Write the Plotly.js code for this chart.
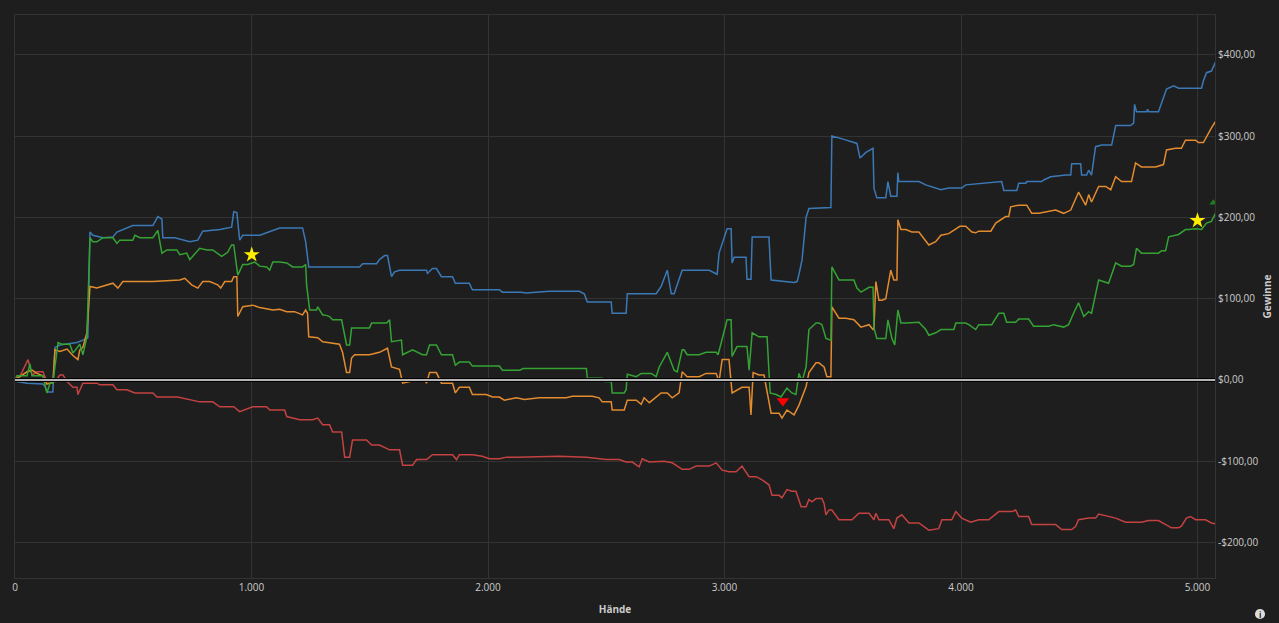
<!DOCTYPE html>
<html>
<head>
<meta charset="utf-8">
<script src="https://cdn.plot.ly/plotly-3.0.1.min.js"></script>
<style>
html,body{margin:0;padding:0;background:#1e1e1e;}
#chart{width:1279px;height:623px;}
</style>
</head>
<body>
<div id="chart"></div>
<script>
// [hands, winnings $]
const blueSeries = [[0,0],[8,-2],[51,-4],[118,-5],[127,-8],[135,-15],[160,-15],[169,40],[190,43],[232,45],[262,46],[287,49],[308,52],[317,182],[329,178],[372,175],[414,176],[431,182],[473,187],[498,190],[583,190],[604,201],[621,198],[625,175],[676,175],[718,172],[739,170],[773,172],[794,183],[866,185],[916,188],[925,207],[938,206],[950,172],[963,178],[1035,178],[1064,181],[1119,187],[1216,187],[1229,170],[1242,139],[1457,139],[1470,143],[1529,143],[1541,148],[1563,153],[1575,153],[1592,127],[1605,133],[1626,135],[1740,135],[1744,131],[1765,137],[1782,137],[1803,127],[1850,127],[1862,119],[1921,119],[1934,111],[2048,111],[2061,108],[2141,108],[2162,107],[2260,109],[2386,109],[2407,106],[2420,96],[2521,96],[2525,82],[2584,82],[2589,106],[2711,106],[2732,115],[2758,135],[2775,106],[2787,106],[2821,135],[2935,135],[2969,130],[2977,156],[3011,186],[3028,186],[3032,144],[3041,151],[3091,151],[3095,124],[3112,124],[3117,176],[3188,176],[3197,123],[3294,120],[3307,121],[3315,130],[3328,148],[3345,200],[3357,211],[3450,212],[3454,300],[3505,296],[3539,293],[3560,291],[3573,273],[3598,280],[3628,285],[3632,236],[3644,224],[3682,224],[3691,244],[3703,226],[3729,226],[3733,255],[3737,244],[3822,244],[3851,240],[3915,234],[3948,236],[4003,236],[4020,240],[4084,242],[4172,244],[4181,233],[4236,233],[4244,242],[4274,242],[4278,244],[4341,244],[4350,246],[4379,250],[4443,252],[4464,252],[4468,266],[4506,266],[4510,252],[4531,252],[4540,258],[4552,252],[4569,287],[4595,289],[4637,289],[4654,313],[4717,313],[4730,316],[4734,339],[4742,330],[4785,330],[4789,333],[4793,330],[4835,330],[4869,358],[4899,362],[4920,359],[5017,359],[5025,368],[5038,378],[5059,380],[5076,391]];

const orangeSeries = [[0,0],[21,4],[51,10],[72,12],[93,8],[118,5],[135,-5],[160,-3],[169,37],[190,35],[220,38],[245,30],[266,25],[274,37],[287,40],[304,58],[317,115],[346,113],[372,115],[414,119],[435,113],[456,121],[507,121],[583,121],[697,123],[718,125],[747,117],[773,113],[794,121],[823,121],[857,117],[870,113],[887,121],[916,121],[925,127],[938,127],[942,78],[963,90],[1005,92],[1035,89],[1090,86],[1119,87],[1149,84],[1182,84],[1216,80],[1229,86],[1237,82],[1242,53],[1280,52],[1301,47],[1372,44],[1385,34],[1402,9],[1415,9],[1423,27],[1436,31],[1499,31],[1541,34],[1575,39],[1592,16],[1626,13],[1639,-4],[1698,0],[1731,0],[1740,-4],[1753,9],[1782,9],[1803,-4],[1850,-4],[1862,-16],[1879,-9],[1921,-9],[1934,-18],[1993,-18],[2019,-21],[2048,-21],[2069,-25],[2120,-22],[2154,-24],[2217,-22],[2331,-22],[2356,-20],[2441,-20],[2470,-22],[2483,-27],[2521,-27],[2525,-37],[2576,-37],[2589,-25],[2627,-25],[2648,-30],[2660,-22],[2682,-28],[2732,-16],[2758,-16],[2779,-22],[2808,-16],[2821,10],[2842,4],[2893,4],[2922,8],[2965,8],[2977,-2],[2990,25],[3019,25],[3032,-16],[3074,-9],[3104,-9],[3112,-43],[3121,9],[3146,6],[3167,6],[3197,-41],[3231,-41],[3243,-47],[3264,-37],[3294,-43],[3315,-31],[3345,-8],[3357,9],[3387,21],[3399,21],[3421,16],[3433,4],[3450,4],[3454,90],[3484,76],[3513,76],[3547,74],[3577,65],[3611,68],[3628,62],[3632,64],[3640,121],[3653,98],[3666,98],[3682,100],[3703,135],[3716,123],[3729,123],[3733,197],[3746,185],[3767,185],[3792,182],[3822,182],[3851,170],[3864,166],[3893,170],[3915,178],[3948,180],[3978,186],[3995,189],[4020,189],[4046,182],[4062,181],[4075,183],[4126,183],[4147,193],[4189,201],[4202,201],[4210,213],[4244,215],[4278,215],[4299,205],[4329,205],[4371,207],[4400,209],[4434,205],[4464,209],[4497,231],[4527,215],[4540,228],[4552,219],[4582,238],[4612,238],[4633,234],[4654,250],[4679,244],[4721,244],[4738,267],[4763,262],[4823,262],[4856,265],[4869,283],[4907,285],[4932,285],[4949,295],[4992,295],[5004,292],[5025,292],[5034,297],[5059,310],[5076,318]];

const greenSeries = [[0,0],[8,5],[51,5],[63,20],[72,5],[118,5],[135,-16],[148,-4],[160,-4],[182,46],[198,44],[232,44],[245,33],[274,44],[287,31],[304,53],[317,175],[329,170],[346,170],[372,175],[414,175],[431,168],[443,172],[498,172],[507,178],[528,175],[583,175],[604,184],[621,156],[642,160],[684,160],[697,154],[726,156],[739,148],[781,162],[811,160],[836,160],[874,152],[899,157],[916,166],[925,166],[942,129],[963,142],[984,142],[1014,145],[1035,140],[1064,139],[1077,135],[1090,145],[1119,145],[1149,144],[1174,139],[1216,139],[1229,142],[1233,117],[1246,86],[1275,86],[1280,90],[1301,80],[1309,80],[1330,78],[1343,74],[1381,74],[1385,68],[1402,43],[1415,43],[1423,64],[1436,64],[1499,64],[1508,70],[1571,70],[1584,74],[1592,47],[1634,49],[1639,31],[1681,37],[1723,31],[1740,31],[1753,43],[1782,43],[1803,31],[1850,31],[1862,18],[1879,22],[1921,22],[1934,17],[2048,17],[2061,12],[2133,12],[2150,14],[2416,14],[2420,2],[2483,2],[2492,-2],[2521,-2],[2525,-16],[2576,-16],[2584,-12],[2589,7],[2627,4],[2648,8],[2690,8],[2711,4],[2724,16],[2758,34],[2787,12],[2800,10],[2821,37],[2829,37],[2842,31],[2893,31],[2922,34],[2965,34],[2973,31],[2986,45],[3011,74],[3028,74],[3032,29],[3053,41],[3095,41],[3104,12],[3117,58],[3146,53],[3180,53],[3193,-16],[3218,-18],[3239,-21],[3264,-10],[3285,-16],[3302,-18],[3315,8],[3328,-2],[3345,16],[3357,62],[3387,70],[3399,70],[3412,68],[3429,51],[3450,49],[3454,139],[3484,123],[3547,123],[3560,113],[3577,108],[3611,114],[3628,114],[3632,64],[3644,51],[3682,51],[3691,74],[3708,51],[3720,43],[3733,86],[3746,70],[3767,70],[3822,71],[3851,62],[3864,55],[3893,58],[3915,62],[3970,62],[3978,70],[4020,70],[4033,68],[4062,62],[4075,68],[4130,68],[4160,82],[4181,82],[4193,71],[4231,71],[4244,75],[4286,75],[4307,66],[4371,66],[4392,68],[4434,65],[4455,68],[4476,82],[4497,95],[4519,78],[4540,84],[4552,82],[4582,123],[4624,119],[4654,144],[4679,140],[4717,140],[4730,142],[4742,162],[4763,156],[4835,156],[4848,159],[4865,159],[4878,176],[4920,179],[4949,185],[4962,185],[4992,186],[5017,185],[5038,193],[5059,195],[5076,205]];

const redSeries = [[0,0],[21,5],[30,10],[55,25],[72,6],[93,10],[118,10],[135,-2],[169,-2],[190,6],[203,6],[220,-2],[245,-9],[262,-9],[266,-18],[287,-4],[304,-4],[346,-4],[359,-6],[414,-6],[431,-12],[473,-12],[507,-16],[583,-16],[600,-21],[688,-21],[781,-27],[836,-27],[866,-33],[925,-33],[950,-39],[992,-35],[1005,-33],[1064,-33],[1077,-37],[1140,-37],[1149,-45],[1204,-49],[1258,-49],[1280,-47],[1301,-55],[1330,-55],[1343,-64],[1381,-64],[1394,-95],[1415,-95],[1427,-74],[1486,-74],[1508,-80],[1541,-80],[1584,-86],[1626,-86],[1639,-105],[1681,-105],[1698,-98],[1740,-98],[1765,-92],[1850,-92],[1867,-98],[1879,-92],[1934,-92],[1976,-94],[2006,-97],[2048,-97],[2078,-95],[2120,-95],[2217,-94],[2302,-94],[2416,-95],[2470,-97],[2500,-98],[2555,-98],[2584,-101],[2610,-101],[2639,-107],[2652,-97],[2682,-101],[2745,-100],[2779,-102],[2821,-110],[2851,-110],[2880,-106],[2935,-106],[2965,-102],[2990,-111],[3019,-113],[3049,-113],[3074,-106],[3104,-119],[3134,-119],[3159,-123],[3188,-129],[3201,-142],[3231,-142],[3243,-145],[3264,-135],[3285,-137],[3302,-137],[3324,-156],[3345,-156],[3357,-147],[3370,-150],[3387,-146],[3412,-146],[3421,-152],[3429,-166],[3442,-160],[3454,-160],[3484,-172],[3539,-172],[3568,-164],[3611,-164],[3632,-172],[3640,-164],[3653,-172],[3695,-172],[3716,-183],[3729,-170],[3750,-166],[3780,-176],[3822,-176],[3851,-182],[3864,-185],[3906,-183],[3919,-172],[3961,-172],[3978,-162],[4003,-170],[4041,-175],[4075,-172],[4117,-172],[4160,-162],[4215,-162],[4231,-160],[4244,-168],[4286,-168],[4299,-178],[4400,-178],[4426,-184],[4468,-184],[4485,-180],[4497,-172],[4540,-170],[4569,-170],[4582,-165],[4654,-170],[4696,-175],[4763,-175],[4793,-173],[4835,-173],[4865,-178],[4890,-182],[4920,-182],[4932,-180],[4953,-170],[4970,-168],[4992,-172],[5034,-172],[5059,-176],[5076,-177]];

const starHands = [1001, 5000];
const starWin = [154, 196];
const lowHands = [3247];
const lowWin = [-26];
const highHands = [5067];
const highWin = [218];

const xTickVals = [0, 1000, 2000, 3000, 4000, 5000];
const xTickText = ['0', '1.000', '2.000', '3.000', '4.000', '5.000'];
const yTickVals = [-200, -100, 0, 100, 200, 300, 400];
const yTickText = ['-$200,00', '-$100,00', '$0,00', '$100,00', '$200,00', '$300,00', '$400,00'];

function lineTrace(series, color) {
  return {
    type: 'scatter', mode: 'lines',
    x: series.map(p => p[0]), y: series.map(p => p[1]),
    line: {color: color, width: 1.5},
    hoverinfo: 'skip', showlegend: false
  };
}

const traces = [
  lineTrace(redSeries, '#c44242'),
  lineTrace(blueSeries, '#3b79b6'),
  lineTrace(orangeSeries, '#e38b2f'),
  lineTrace(greenSeries, '#34a334'),
  {type: 'scatter', mode: 'markers', x: starHands, y: starWin,
   marker: {symbol: 'star', size: 12, color: '#ffee00', line: {width: 0}}, showlegend: false, hoverinfo: 'skip'},
  {type: 'scatter', mode: 'markers', x: lowHands, y: lowWin,
   marker: {symbol: 'triangle-down', size: 11, color: '#ff0000', line: {width: 0}}, showlegend: false, hoverinfo: 'skip'},
  {type: 'scatter', mode: 'markers', x: highHands, y: highWin,
   marker: {symbol: 'triangle-up', size: 7, color: '#1e7d1e', line: {width: 0}}, showlegend: false, hoverinfo: 'skip'}
];

const font = 'Open Sans, Noto Sans, sans-serif';
const layout = {
  width: 1279, height: 623,
  paper_bgcolor: '#1e1e1e', plot_bgcolor: '#1e1e1e',
  margin: {l: 15, r: 64, t: 15, b: 45},
  showlegend: false,
  font: {family: font, color: '#cccccc', size: 10},
  xaxis: {
    range: [0, 5074], tickvals: xTickVals, ticktext: xTickText,
    showgrid: true, gridcolor: '#333333', gridwidth: 1,
    zeroline: false, showline: true, mirror: true, linecolor: '#333333', linewidth: 1,
    ticks: '', tickfont: {size: 10, color: '#cccccc'},
    title: {text: '<b>Hände</b>', font: {size: 10, color: '#cccccc'}, standoff: 12}
  },
  yaxis: {
    side: 'right', range: [-243.7, 449], tickvals: yTickVals, ticktext: yTickText,
    showgrid: true, gridcolor: '#333333', gridwidth: 1,
    zeroline: false, showline: true, mirror: true, linecolor: '#333333', linewidth: 1,
    ticks: '', tickfont: {size: 10, color: '#cccccc'},
    title: {text: '<b>Gewinne</b>', font: {size: 10, color: '#cccccc'}, standoff: 6}
  },
  shapes: [
    {type: 'line', xref: 'paper', x0: 0, x1: 1, yref: 'y', y0: 0, y1: 0,
     line: {color: '#000000', width: 4}, layer: 'above'},
    {type: 'line', xref: 'paper', x0: 0, x1: 1, yref: 'y', y0: 0, y1: 0,
     line: {color: '#f0f0f0', width: 1.5}, layer: 'above'},
    {type: 'circle', xref: 'paper', yref: 'paper', x0: 1.0333, x1: 1.0417, y0: -0.073, y1: -0.055,
     fillcolor: '#dddddd', line: {width: 0}}
  ],
  annotations: [
    {xref: 'paper', yref: 'paper', x: 1.0375, y: -0.064, text: '<b>i</b>', showarrow: false,
     font: {size: 8, color: '#1e1e1e', family: font}, xanchor: 'center', yanchor: 'middle'}
  ]
};

Plotly.newPlot('chart', traces, layout, {staticPlot: true, displayModeBar: false});
</script>
</body>
</html>
